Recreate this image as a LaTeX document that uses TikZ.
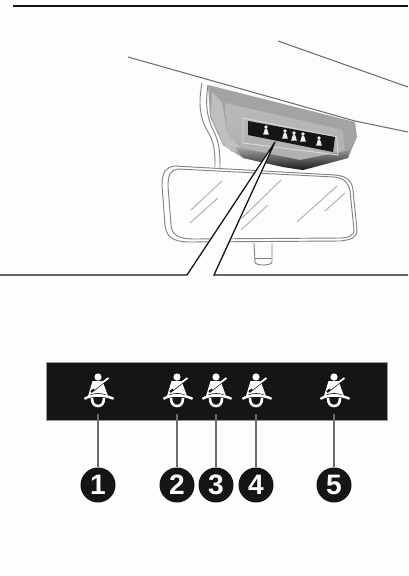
\documentclass[tikz,border=0pt]{standalone}
\usepackage{fontspec}
\setmainfont{Liberation Sans}
\usetikzlibrary{positioning}
\definecolor{Ink}{HTML}{151515}
\definecolor{Edge}{HTML}{6E6E6E}
\definecolor{Paper}{HTML}{FDFDFD}
\tikzset{
    rule/.style={line width=1.7pt, color=Ink},
    roofline/.style={line width=0.9pt, color=Edge},
    outline/.style={line width=0.8pt, color=Edge!85},
    glint/.style={line width=0.8pt, color=Edge!55},
    leader/.style={line width=2pt, color=Edge},
    pointer/.style={line width=1.1pt, color=Ink},
    numbadge/.style={circle, fill=Ink, text=white, minimum size=1.05cm, inner sep=0pt, font=\fontsize{24}{24}\selectfont\bfseries},
    beltman/.pic={
        \fill[white] (0,-14) circle (3.6);
        \fill[white] (-5.5,-10) -- (4.5,-10) -- (10,5) -- (-10,5) -- cycle;
        \draw[Ink, line width=1.9pt] (-7,1) -- (11,-13);
        \draw[white, line width=1.5pt] (-4,-2) -- (10.5,-13);
        \draw[Ink, line width=0.6pt] (-8,4) .. controls (-3,2) and (3,2) .. (8,4);
        \draw[white, line width=2.1pt, line cap=round] (-13,7.5) .. controls (-6,3.5) and (6,3.5) .. (15,7.5);
        \draw[white, line width=2.2pt] (-6,7) .. controls (-6,12) and (-4,15) .. (0,15) .. controls (4,15) and (6,12) .. (6,7);
    },
    smallman/.pic={
        \fill[gray!15] (0,-4) circle (1.9);
        \fill[gray!15] (-1,-2.5) -- (1,-2.5) -- (2.9,3.6) -- (-2.9,3.6) -- cycle;
    },
}
\begin{document}
\begin{tikzpicture}[x=0.03cm, y=-0.03cm]
    \useasboundingbox[fill=Paper] (0,0) rectangle (408,576);
    % Linea in alto
    \draw[rule] (13,6) -- (408,6);

    % Tetto
    \draw[roofline] (128,57) -- (355,121) -- (408,132);
    \draw[roofline] (278,41) -- (408,87);

    % Staffa
    \draw[outline] (202,83) .. controls (198,105) and (200,118) .. (208,132) .. controls (214,142) and (215,150) .. (215,167);
    \draw[outline] (208,85) .. controls (205,105) and (207,118) .. (214,132) .. controls (219,142) and (220,150) .. (220,168);

    % Modulo
    \fill[gray!72] (208,85) -- (355,122) -- (357,137) -- (348,158) -- (303,170) -- (283,167) -- (243,158) -- (223,145) -- (210,117) -- cycle;
    \fill[gray!50] (212,92) -- (222,102) -- (227,133) -- (243,150) -- (232,152) -- (223,143) -- (211,116) -- cycle;
    \shade[top color=gray!55, bottom color=gray!62] (225,103) -- (343,130) -- (345,152) -- (300,160) -- (243,148) -- (227,133) -- cycle;
    \shade[top color=gray!70, bottom color=black!90] (235,147) -- (300,160) -- (350,150) -- (348,158) -- (303,170) -- (283,167) -- (243,158) -- cycle;
    \draw[white!70!gray, line width=0.8pt] (243,118) -- (337,137) -- (338,155) -- (243,143) -- cycle;
    \fill[Ink] (248,121) -- (335,137) -- (333,152) -- (248,135) -- cycle;
    \foreach \px/\py in {266/131, 285/135, 294/137, 303/138, 319/142}
        \pic at (\px,\py) {smallman};

    % Specchio
    \draw[outline, fill=Paper] (175,166) -- (335,175) .. controls (348,176) and (352,182) .. (353,190) -- (357,230) .. controls (357,238) and (350,240) .. (340,241) -- (190,242) .. controls (172,242) and (166,236) .. (165,225) -- (162,185) .. controls (162,172) and (166,167) .. (175,166) -- cycle;
    \draw[outline] (178,169) -- (334,177) .. controls (345,178) and (349,184) .. (350,191) -- (354,230) .. controls (354,236) and (348,238) .. (340,238) -- (195,239) .. controls (176,239) and (172,234) .. (171,225) -- (168,186) .. controls (168,174) and (171,170) .. (178,169) -- cycle;
    \foreach \xa/\ya/\xb/\yb in {222/181/191/210, 218/198/190/223, 281/180/242/218, 268/205/241/230, 337/186/297/222, 345/193/325/211}
        \draw[glint] (\xa,\ya) -- (\xb,\yb);
    \draw[outline] (254,243) -- (255,262) .. controls (255,266) and (271,266) .. (272,262) -- (272,243);
    \draw[outline] (255,258) -- (272,258);

    % Richiamo
    \coordinate (tip) at (275,142);
    \coordinate (leftknee) at (187,275);
    \coordinate (rightknee) at (214,275);
    \coordinate (leftend) at (0,275);
    \coordinate (rightend) at (408,275);
    \fill[Paper] (tip) -- (leftknee) -- (rightknee) -- cycle;
    \draw[pointer] (leftend) -- (leftknee) -- (tip) -- (rightknee) -- (rightend);

    % Striscia
    \draw[Edge!70, fill=Ink, line width=0.5pt] (46,362) rectangle (387,420);
    \foreach \n/\px/\lab in {1/98/1, 2/177/2, 3/216/3, 4/256/4, 5/334/5}{
        \pic at (\px,391) {beltman};
        \coordinate (from\n) at (\px,414);
        \node[numbadge] (num\n) at (\px,485) {\lab};
        \draw[leader] (from\n) -- (num\n);
    }
\end{tikzpicture}
\end{document}
